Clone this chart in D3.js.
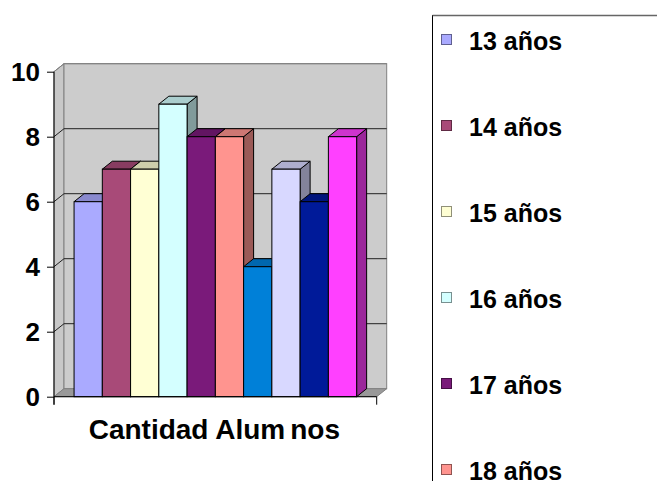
<!DOCTYPE html>
<html>
<head>
<meta charset="utf-8">
<script src="https://cdn.jsdelivr.net/npm/d3@7"></script>
<style>
  html, body { margin: 0; padding: 0; background: #ffffff; }
  svg { display: block; }
  text { font-family: "Liberation Sans", Arial, sans-serif; font-weight: bold; fill: #000; }
</style>
</head>
<body>
<svg id="chart" width="657" height="481"></svg>
<script>
// ---- data ----
const category = "Cantidad Alumnos";
const seriesNames = ["13 años", "14 años", "15 años", "16 años", "17 años", "18 años", "19 años", "20 años", "21 años", "22 años"];
const seriesValues = [6, 7, 7, 9, 8, 8, 4, 7, 6, 8];
const seriesColors = ["#aaaaff", "#a84a78", "#ffffd4", "#d4ffff", "#7a1a7a", "#ff948f", "#0080d8", "#d8d8ff", "#001a99", "#ff40ff"];
const yTicks = [0, 2, 4, 6, 8, 10];

// ---- layout ----
const svg = d3.select("#chart");
const axisX = 54, floorRight = 376.7;
const depthX = 10, depthY = -8;
const y = d3.scaleLinear().domain([0, 10]).range([396.7, 71.7]);
const xCat = d3.scaleBand().domain([category]).range([axisX, floorRight]).paddingOuter(0.071).paddingInner(0);
const x = d3.scaleBand().domain(seriesNames).range([xCat(category), xCat(category) + xCat.bandwidth()]).padding(0);

const y0 = y(0), yTop = y(10);

// side (left) wall
svg.append("polygon")
  .attr("points", [[axisX, yTop], [axisX + depthX, yTop + depthY], [axisX + depthX, y0 + depthY], [axisX, y0]].join(" "))
  .attr("fill", "#c8c8c8").attr("stroke", "#808080").attr("stroke-width", 1);

// back wall
svg.append("rect")
  .attr("x", axisX + depthX).attr("y", yTop + depthY)
  .attr("width", floorRight - axisX).attr("height", y0 - yTop)
  .attr("fill", "#cccccc").attr("stroke", "#808080").attr("stroke-width", 1);

// floor
svg.append("polygon")
  .attr("points", [[axisX, y0], [floorRight, y0], [floorRight + depthX, y0 + depthY], [axisX + depthX, y0 + depthY]].join(" "))
  .attr("fill", "#999999").attr("stroke", "#808080").attr("stroke-width", 1);

// gridlines (back wall + side wall diagonals)
yTicks.filter(v => v > 0).forEach(v => {
  const yy = y(v);
  svg.append("line")
    .attr("x1", axisX + depthX).attr("x2", floorRight + depthX)
    .attr("y1", yy + depthY).attr("y2", yy + depthY)
    .attr("stroke", v === 10 ? "#808080" : "#222").attr("stroke-width", 1);
  svg.append("line")
    .attr("x1", axisX).attr("y1", yy)
    .attr("x2", axisX + depthX).attr("y2", yy + depthY)
    .attr("stroke", v === 10 ? "#808080" : "#222").attr("stroke-width", 1);
});

// bars
const g = svg.append("g");
seriesNames.forEach((name, i) => {
  const v = seriesValues[i];
  const c = d3.color(seriesColors[i]);
  const x0 = x(name), x1 = x(name) + x.bandwidth();
  const yt = y(v);
  // side face
  g.append("polygon")
    .attr("points", [[x1, yt], [x1 + depthX, yt + depthY], [x1 + depthX, y0 + depthY], [x1, y0]].join(" "))
    .attr("fill", c.darker(1.4).formatHex()).attr("stroke", "#000").attr("stroke-width", 1).attr("stroke-linejoin", "round");
  // top face
  g.append("polygon")
    .attr("points", [[x0, yt], [x1, yt], [x1 + depthX, yt + depthY], [x0 + depthX, yt + depthY]].join(" "))
    .attr("fill", c.darker(0.6).formatHex()).attr("stroke", "#000").attr("stroke-width", 1).attr("stroke-linejoin", "round");
  // front face
  g.append("rect")
    .attr("x", x0).attr("y", yt).attr("width", x1 - x0).attr("height", y0 - yt)
    .attr("fill", c.formatHex()).attr("stroke", "#000").attr("stroke-width", 1);
});

// y axis
const yAxis = d3.axisLeft(y).tickValues(yTicks).tickSize(7).tickPadding(7).tickFormat(d3.format("d"));
const ya = svg.append("g").attr("transform", `translate(${axisX},0)`).call(yAxis);
ya.select(".domain").remove();
ya.append("line").attr("x1", 0).attr("x2", 0).attr("y1", yTop).attr("y2", y0 + 8).attr("stroke", "#000");
ya.selectAll(".tick line").attr("stroke", "#000");
ya.selectAll(".tick text")
  .style("font-family", '"Liberation Sans", Arial, sans-serif')
  .style("font-weight", "bold").style("font-size", "26px").attr("fill", "#000");

// x axis (category)
const xAxis = d3.axisBottom(xCat).tickSize(0).tickFormat(() => "");
const xa = svg.append("g").attr("transform", `translate(0,${y0})`).call(xAxis);
xa.select(".domain").remove();
xa.append("line").attr("x1", axisX).attr("x2", floorRight).attr("y1", 0).attr("y2", 0).attr("stroke", "#000");
[axisX, floorRight].forEach(px => {
  xa.append("line").attr("x1", px).attr("x2", px).attr("y1", 0).attr("y2", 8).attr("stroke", "#000");
});
const lbl = svg.append("text")
  .attr("x", xCat(category) + xCat.bandwidth() / 2 - 1).attr("y", 438.5)
  .attr("text-anchor", "middle").style("font-size", "28px");
lbl.append("tspan").text("Cantidad Alum");
lbl.append("tspan").attr("dx", 5).text("nos");

// legend
const legend = svg.append("g");
legend.append("rect")
  .attr("x", 432.5).attr("y", 15.5).attr("width", 300).attr("height", 500)
  .attr("fill", "#ffffff").attr("stroke", "#000").attr("stroke-width", 1);
legend.append("line").attr("x1", 432.5).attr("x2", 657).attr("y1", 15.5).attr("y2", 15.5)
  .attr("stroke", "#666").attr("stroke-width", 1.5);
seriesNames.forEach((name, i) => {
  const by = 49.5 + i * 86;
  const c = d3.color(seriesColors[i]);
  legend.append("rect")
    .attr("x", 441.5).attr("y", by - 15).attr("width", 10).attr("height", 10)
    .attr("fill", c.formatHex()).attr("stroke", c.darker(1.6).formatHex()).attr("stroke-width", 1);
  legend.append("text")
    .attr("x", 469).attr("y", by)
    .style("font-size", "25px").text(name);
});
</script>
</body>
</html>
